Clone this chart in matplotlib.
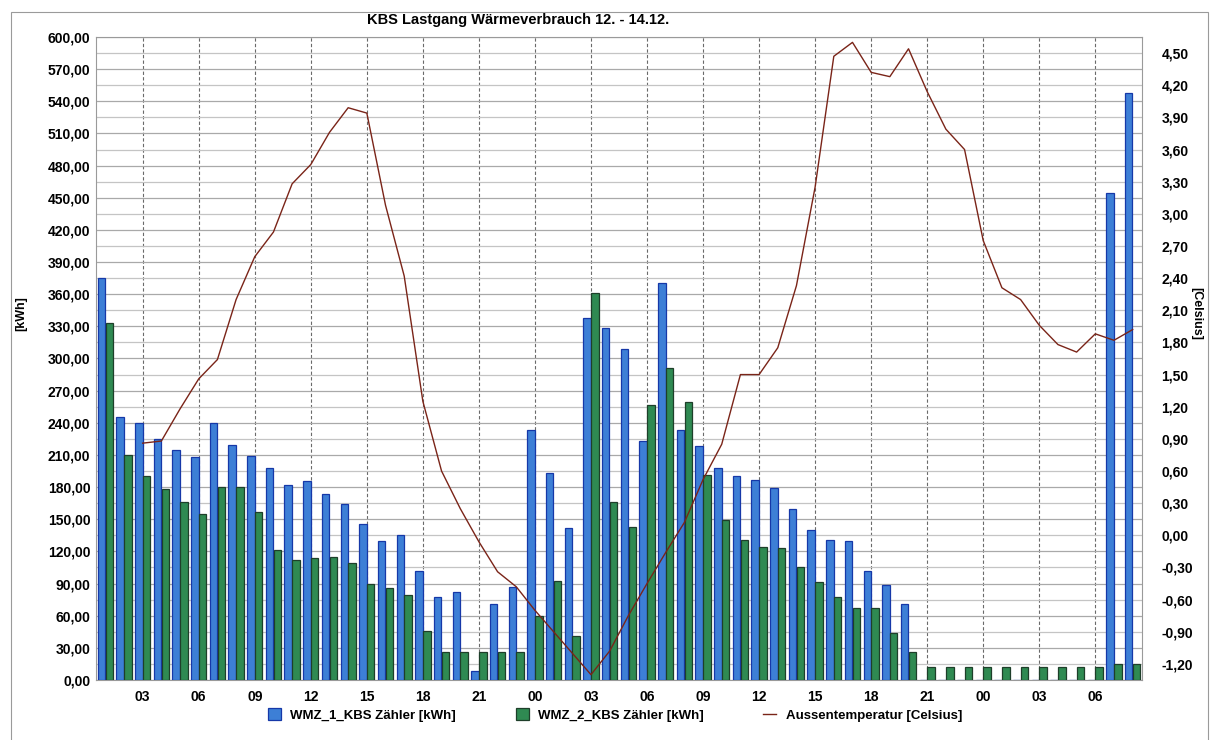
import matplotlib
matplotlib.use('Agg')
import matplotlib.pyplot as plt
from matplotlib.patches import Rectangle
import numpy as np

plt.rcParams['font.family'] = ['Liberation Sans', 'DejaVu Sans']
plt.rcParams['font.weight'] = 'bold'

# hourly values, hour 1 = 12.12. 01:00 ... hour 56 = 14.12. 08:00
hours = np.arange(1, 57)
wmz1 = [375, 245, 240, 225, 215, 208, 240, 219, 209, 198, 182, 186, 174, 164,
        146, 130, 135, 102, 77, 82, 8, 71, 87, 233, 193, 142, 338, 328, 309,
        223, 370, 233, 218, 198, 190, 187, 179, 160, 140, 131, 130, 102, 89, 71,
        0, 0, 0, 0, 0, 0, 0, 0, 0, 0, 454, 548]
wmz2 = [333, 210, 190, 178, 166, 155, 180, 180, 157, 121, 112, 114, 115, 109,
        90, 86, 79, 46, 26, 26, 26, 26, 26, 60, 92, 41, 361, 166, 143, 257, 291,
        259, 191, 149, 131, 124, 123, 105, 91, 77, 67, 67, 44, 26,
        12, 12, 12, 12, 12, 12, 12, 12, 12, 12, 15, 15]

# outside temperature, hours 3 ... 56
temp_hours = np.arange(3, 57)
temp = [0.86, 0.88, 1.18, 1.46, 1.64, 2.20, 2.60, 2.83, 3.28, 3.46, 3.76, 3.99,
        3.94, 3.08, 2.42, 1.25, 0.60, 0.25, -0.06, -0.34, -0.48, -0.70, -0.90,
        -1.10, -1.30, -1.08, -0.75, -0.45, -0.16, 0.12, 0.52, 0.85, 1.50, 1.50,
        1.75, 2.33, 3.25, 4.47, 4.60, 4.32, 4.28, 4.54, 4.14, 3.79, 3.60, 2.75,
        2.31, 2.20, 1.96, 1.78, 1.71, 1.88, 1.82, 1.92]

xtick_pos = np.arange(3, 55, 3)
xtick_labels = ['03', '06', '09', '12', '15', '18', '21', '00', '03', '06',
                '09', '12', '15', '18', '21', '00', '03', '06']
left_ticks = np.arange(0, 601, 30)
right_ticks = np.round(np.arange(-1.2, 4.51, 0.3), 2)
right_lim = (-1.35, 4.65)


def fmt(v):
    return f'{v:.2f}'.replace('.', ',').replace('-0,00', '0,00')


fig = plt.figure(figsize=(12.13, 7.40), dpi=100)
fig.patches.append(Rectangle((11 / 1213, -0.01), 1197 / 1213, 1 - 12 / 740 + 0.01,
                             transform=fig.transFigure, fill=False,
                             edgecolor='#9a9a9a', lw=0.8))
ax = fig.add_axes([96 / 1213, 1 - 680 / 740, (1142 - 96) / 1213, (680 - 37) / 740])

w = 0.40
ax.bar(hours - 0.21, wmz1, width=w, color='#3d7fd6', edgecolor='#1638a8',
       lw=0.9, zorder=3, label='WMZ_1_KBS Zähler [kWh]')
ax.bar(hours + 0.21, wmz2, width=w, color='#2f8a52', edgecolor='#1e3f2a',
       lw=0.9, zorder=3, label='WMZ_2_KBS Zähler [kWh]')

ax.set_xlim(0.5, 56.5)
ax.set_ylim(0, 600)
ax.set_yticks(left_ticks)
ax.set_yticklabels([fmt(v) for v in left_ticks])
# grid lines of the right axis, drawn in left units
ax.set_yticks((right_ticks - right_lim[0]) * 100, minor=True)
ax.set_xticks(xtick_pos)
ax.set_xticklabels(xtick_labels)
ax.grid(axis='y', which='major', color='#a9a9a9', lw=0.9, zorder=0)
ax.grid(axis='y', which='minor', color='#c4c4c4', lw=0.9, zorder=0)
ax.grid(axis='x', color='#6a6a6a', lw=0.8, ls=(0, (3, 2)), zorder=0)
ax.tick_params(axis='both', which='both', length=0, labelsize=10)
ax.tick_params(axis='x', pad=7)
ax.tick_params(axis='y', pad=4)
for s in ax.spines.values():
    s.set_color('#9a9a9a')
    s.set_linewidth(0.8)
ax.set_ylabel('[kWh]', fontsize=9, fontweight='bold')
ax.yaxis.set_label_coords(-0.066, 0.57)

ax2 = ax.twinx()
ax2.plot(temp_hours, temp, color='#7a2418', lw=1.0,
         label='Aussentemperatur [Celsius]')
ax2.set_ylim(*right_lim)
ax2.set_yticks(right_ticks)
ax2.set_yticklabels([fmt(v) for v in right_ticks])
ax2.tick_params(axis='y', length=0, labelsize=10, pad=14)
for s in ax2.spines.values():
    s.set_visible(False)
ax2.set_ylabel('[Celsius]', fontsize=9, fontweight='bold', rotation=270)
ax2.yaxis.set_label_coords(1.058, 0.57)

fig.text(518 / 1213, 1 - 20 / 740, 'KBS Lastgang Wärmeverbrauch 12. - 14.12.',
         ha='center', va='center', fontsize=10.5, fontweight='bold')

h1, l1 = ax.get_legend_handles_labels()
h2, l2 = ax2.get_legend_handles_labels()
fig.legend(h1 + h2, l1 + l2, loc='center', bbox_to_anchor=(615 / 1213, 1 - 715 / 740),
           ncol=3, frameon=False, fontsize=9.5, handlelength=1.0, handleheight=1.0,
           columnspacing=4.5, handletextpad=0.7)

fig.savefig('out.png', dpi=100)
